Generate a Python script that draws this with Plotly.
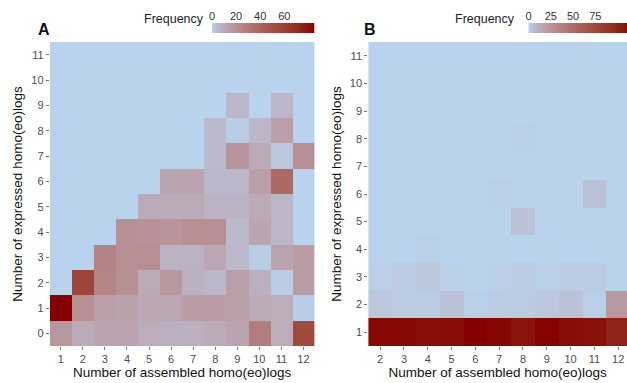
import numpy as np
import plotly.graph_objects as go

# ---------------- data ----------------
a_cols = [1, 2, 3, 4, 5, 6, 7, 8, 9, 10, 11, 12]
a_rows = [0, 1, 2, 3, 4, 5, 6, 7, 8, 9, 10, 11]
a_y0 = [17, 10, 12, 12, 9, 8, 8, 10, 12, 28, 9, 55]
a_y1 = [85, 20, 14, 13, 11, 11, 15, 15, 14, 10, 9, 1]
a_y2 = [0, 57, 25, 20, 10, 17, 8, 6, 14, 8, 1, 15]
a_y3 = [0, 0, 26, 21, 21, 7, 7, 11, 5, 1, 12, 15]
a_y4 = [0, 0, 0, 20, 19, 18, 20, 20, 5, 12, 6, 0]
a_y5 = [0, 0, 0, 0, 10, 10, 10, 7, 7, 10, 6, 0]
a_y6 = [0, 0, 0, 0, 0, 12, 12, 6, 6, 14, 38, 0]
a_y7 = [0, 0, 0, 0, 0, 0, 0, 5, 18, 10, 2, 20]
a_y8 = [0, 0, 0, 0, 0, 0, 0, 5, 1, 6, 14, 0]
a_y9 = [0, 0, 0, 0, 0, 0, 0, 0, 6, 0, 6, 0]
a_y10 = [0] * 12
a_y11 = [0] * 12
a_max = 85
a_ticks = [0, 20, 40, 60]

b_cols = [2, 3, 4, 5, 6, 7, 8, 9, 10, 11, 12]
b_rows = [1, 2, 3, 4, 5, 6, 7, 8, 9, 10, 11]
b_y1 = [112, 112, 110, 111, 115, 113, 108, 114, 111, 109, 100]
b_y2 = [3, 2, 2, 4, 1, 2, 2, 3, 4, 1, 22]
b_y3 = [1, 2, 3, 1, 0, 1, 2, 1, 2, 2, 0]
b_y4 = [0, 0, 1, 0, 0, 0, 0, 0, 0, 0, 0]
b_y5 = [0, 0, 0, 0, 0, 0, 4, 0, 0, 0, 0]
b_y6 = [0, 0, 0, 0, 0, 1, 0, 0, 0, 4, 0]
b_y7 = [0] * 11
b_y8 = [0, 0, 0, 0, 0, 0, 1, 0, 0, 0, 0]
b_y9 = [0] * 11
b_y10 = [0] * 11
b_y11 = [0] * 11
b_max = 115
b_ticks = [0, 25, 50, 75]

freq_a = [a_y0, a_y1, a_y2, a_y3, a_y4, a_y5, a_y6, a_y7, a_y8, a_y9, a_y10, a_y11]
freq_b = [b_y1, b_y2, b_y3, b_y4, b_y5, b_y6, b_y7, b_y8, b_y9, b_y10, b_y11]

# ---------------- colour scale (Lab interpolation) ----------------
def hex2rgb(h):
    h = h.lstrip('#')
    return np.array([int(h[i:i + 2], 16) / 255 for i in (0, 2, 4)])

def rgb2lab(c):
    c = np.where(c > 0.04045, ((c + 0.055) / 1.055) ** 2.4, c / 12.92)
    M = np.array([[0.4124, 0.3576, 0.1805], [0.2126, 0.7152, 0.0722], [0.0193, 0.1192, 0.9505]])
    xyz = M @ c / np.array([0.95047, 1.0, 1.08883])
    f = np.where(xyz > 0.008856, np.cbrt(xyz), 7.787 * xyz + 16 / 116)
    return np.array([116 * f[1] - 16, 500 * (f[0] - f[1]), 200 * (f[1] - f[2])])

def lab2rgb(lab):
    L, a, b = lab
    fy = (L + 16) / 116
    fx = fy + a / 500
    fz = fy - b / 200
    f = np.array([fx, fy, fz])
    xyz = np.where(f ** 3 > 0.008856, f ** 3, (f - 16 / 116) / 7.787) * np.array([0.95047, 1.0, 1.08883])
    Mi = np.array([[3.2406, -1.5372, -0.4986], [-0.9689, 1.8758, 0.0415], [0.0557, -0.2040, 1.0570]])
    c = Mi @ xyz
    c = np.where(c > 0.0031308, 1.055 * np.abs(c) ** (1 / 2.4) - 0.055, 12.92 * c)
    c = np.clip(c, 0, 1)
    return 'rgb(%d,%d,%d)' % tuple(np.round(c * 255))

lo, hi = rgb2lab(hex2rgb('#B9D3EE')), rgb2lab(hex2rgb('#850000'))
cscale = [[t, lab2rgb(lo + (hi - lo) * t ** 0.72)] for t in np.linspace(0, 1, 26)]

# ---------------- figure ----------------
W, H = 627, 383
def px(x):
    return x / W
def py(y):
    return 1 - y / H

fig = go.Figure()
fig.add_trace(go.Heatmap(x=a_cols, y=a_rows, z=freq_a, colorscale=cscale, zmin=0, zmax=a_max,
                         showscale=False, xaxis='x', yaxis='y'))
fig.add_trace(go.Heatmap(x=b_cols, y=b_rows, z=freq_b, colorscale=cscale, zmin=0, zmax=b_max,
                         showscale=False, xaxis='x2', yaxis='y2'))

# gradient legends (colour bars) drawn as thin heatmaps
ga = np.linspace(0, a_max, 120)
gb = np.linspace(0, b_max, 120)
fig.add_trace(go.Heatmap(x=ga, y=[0], z=[ga], colorscale=cscale, zmin=0, zmax=a_max,
                         showscale=False, xaxis='x3', yaxis='y3', hoverinfo='skip'))
fig.add_trace(go.Heatmap(x=gb, y=[0], z=[gb], colorscale=cscale, zmin=0, zmax=b_max,
                         showscale=False, xaxis='x4', yaxis='y4', hoverinfo='skip'))

font = 'Liberation Sans, Arial, sans-serif'
tickfont = dict(family=font, size=11, color='#4d4d4d')
titlefont = dict(family=font, size=13.5, color='#111111')
common = dict(showgrid=False, zeroline=False, showline=False, ticks='outside', ticklen=3,
              tickcolor='#777777', tickwidth=1, tickfont=tickfont, fixedrange=True)

ydom = [py(346), py(42)]
fig.update_layout(
    width=W, height=H, margin=dict(l=0, r=0, t=0, b=0),
    paper_bgcolor='white', plot_bgcolor='white', showlegend=False,
    xaxis=dict(domain=[px(47), px(313)], range=[0.5, 12.5], tickmode='array', tickvals=a_cols,
               title=dict(text='Number of assembled homo(eo)logs', font=titlefont, standoff=3),
               anchor='y', **common),
    yaxis=dict(domain=ydom, range=[-0.5, 11.5], tickmode='array', tickvals=a_rows,
               title=dict(text='Number of expressed homo(eo)logs', font=titlefont, standoff=5),
               anchor='x', **common),
    xaxis2=dict(domain=[px(367), 1.0], range=[1.5, 12.37], tickmode='array', tickvals=b_cols,
                title=dict(text='Number of assembled homo(eo)logs', font=titlefont, standoff=3),
                anchor='y2', **common),
    yaxis2=dict(domain=ydom, range=[0.5, 11.5], tickmode='array', tickvals=b_rows,
                title=dict(text='Number of expressed homo(eo)logs', font=titlefont, standoff=5),
                anchor='x2', **common),
    xaxis3=dict(domain=[px(210), px(313)], range=[0, a_max], side='top', tickmode='array',
                tickvals=a_ticks, ticks='', showgrid=False, zeroline=False, showline=False,
                tickfont=dict(family=font, size=11, color='#333333'), anchor='y3', fixedrange=True),
    yaxis3=dict(domain=[py(33), py(23)], showticklabels=False, ticks='', showgrid=False,
                zeroline=False, anchor='x3', fixedrange=True),
    xaxis4=dict(domain=[px(528), 1.0], range=[0, b_max * 99 / 103], side='top', tickmode='array',
                tickvals=b_ticks, ticks='', showgrid=False, zeroline=False, showline=False,
                tickfont=dict(family=font, size=11, color='#333333'), anchor='y4', fixedrange=True),
    yaxis4=dict(domain=[py(33), py(23)], showticklabels=False, ticks='', showgrid=False,
                zeroline=False, anchor='x4', fixedrange=True),
)

annots = [
    dict(text='<b>A</b>', x=px(33), y=py(30), xanchor='left', yanchor='middle',
         font=dict(family=font, size=16, color='#111111')),
    dict(text='<b>B</b>', x=px(361), y=py(30), xanchor='left', yanchor='middle',
         font=dict(family=font, size=16, color='#111111')),
    dict(text='Frequency', x=px(204), y=py(19), xanchor='right', yanchor='middle',
         font=dict(family=font, size=12.5, color='#222222')),
    dict(text='Frequency', x=px(516), y=py(19), xanchor='right', yanchor='middle',
         font=dict(family=font, size=12.5, color='#222222')),
]
for a in annots:
    a.update(xref='paper', yref='paper', showarrow=False)
fig.update_layout(annotations=annots)

fig.write_html('out.html', config={'displayModeBar': False},
               post_script="document.body.style.margin='0';document.body.style.padding='0';")
